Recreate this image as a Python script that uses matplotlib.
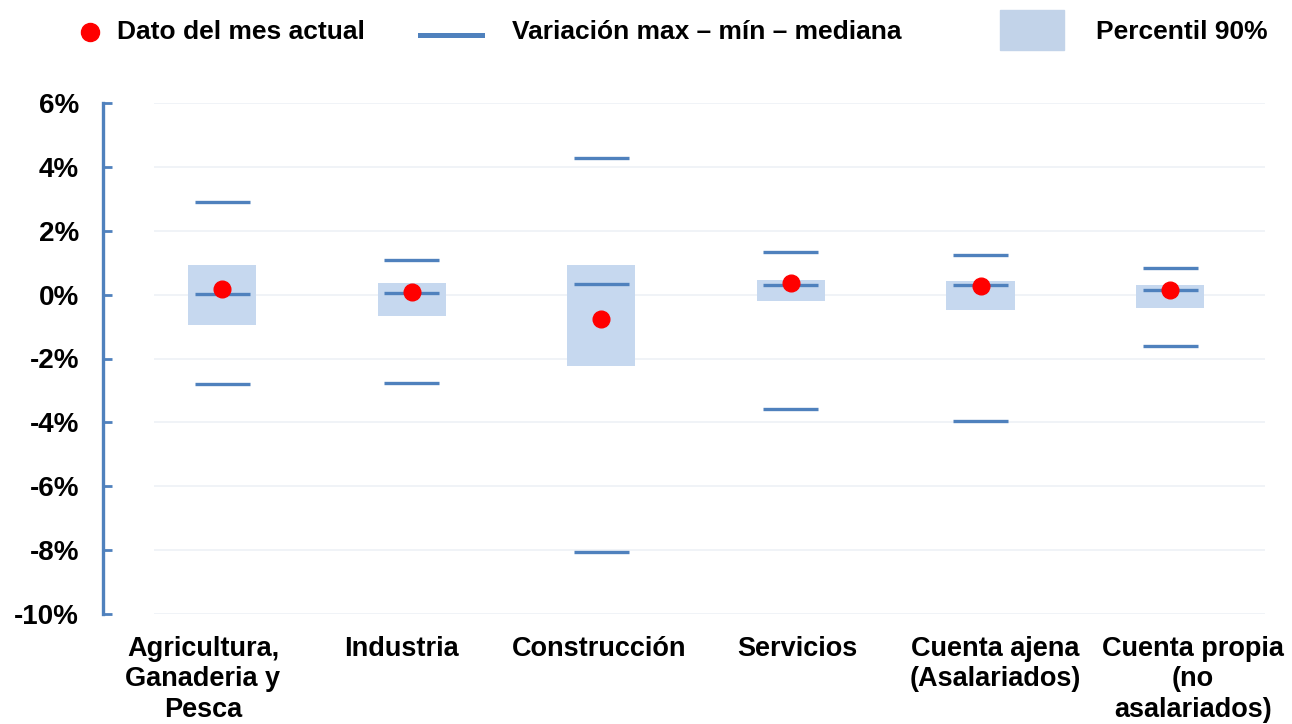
import matplotlib
matplotlib.use("Agg")
import matplotlib.pyplot as plt
from matplotlib.lines import Line2D
from matplotlib.patches import Rectangle

# data (values in %)
categories = ["Agricultura,\nGanaderia y\nPesca", "Industria", "Construcción",
              "Servicios", "Cuenta ajena\n(Asalariados)", "Cuenta propia\n(no\nasalariados)"]
max_vals = [2.91, 1.07, 4.27, 1.33, 1.23, 0.84]
min_vals = [-2.81, -2.77, -8.07, -3.59, -3.96, -1.60]
median_vals = [0.03, 0.06, 0.34, 0.29, 0.29, 0.14]
p90_top = [0.94, 0.35, 0.93, 0.45, 0.44, 0.31]
p90_bottom = [-0.95, -0.67, -2.22, -0.21, -0.48, -0.41]
current = [0.19, 0.07, -0.76, 0.35, 0.26, 0.16]
yticks = [6, 4, 2, 0, -2, -4, -6, -8, -10]

blue = "#4F81BD"
box_color = "#C6D8EF"
font = "Liberation Sans"

fig = plt.figure(figsize=(12.92, 7.24), dpi=100)
ax = fig.add_axes([154 / 1292, 1 - 614 / 724, (1265 - 154) / 1292, (614 - 103) / 724])

x = list(range(len(categories)))

# percentil 90% boxes
ax.bar(x, [t - b for t, b in zip(p90_top, p90_bottom)], bottom=p90_bottom,
       width=0.36, color=box_color, zorder=2)
# max / min / median lines
for vals in (max_vals, min_vals, median_vals):
    ax.hlines(vals, [i - 0.145 for i in x], [i + 0.145 for i in x],
              color=blue, linewidth=2.4, zorder=3)
# current month
ax.plot(x, current, "o", color="red", markersize=12, zorder=4, linestyle="none")

for s in ("top", "right", "bottom"):
    ax.spines[s].set_visible(False)
ax.spines["left"].set_position(("outward", 37))
ax.spines["left"].set_color(blue)
ax.spines["left"].set_linewidth(2.4)

ax.set_xlim(-0.359, 5.5)
ax.set_ylim(-10, 6)
ax.set_yticks(yticks)
ax.set_yticklabels([f"{v}%" for v in yticks])
for lab in ax.get_yticklabels():
    lab.set_fontsize(20)
    lab.set_fontweight("bold")
    lab.set_family(font)
ax.yaxis.grid(True, color="#EDF1F6", linewidth=1.2, zorder=0)
ax.set_axisbelow(True)
ax.tick_params(axis="y", direction="in", length=6.5, width=2, color=blue, pad=17)
ax.set_xticks([])

# category labels spread across the full width from the spine
for i, lab in enumerate(categories):
    ax.text((203 - 154 + 198 * i) / 1111, -0.043, lab, transform=ax.transAxes,
            ha="center", va="top", fontsize=19.5, fontweight="bold", family=font,
            linespacing=1.22)

# legend across the top
fig.add_artist(Line2D([90 / 1292], [1 - 32 / 724], marker="o", color="red",
                      markersize=13, linestyle="none", transform=fig.transFigure))
fig.text(117 / 1292, 1 - 32 / 724, "Dato del mes actual", fontsize=19,
         fontweight="bold", family=font, va="center")
fig.add_artist(Line2D([420 / 1292, 482 / 1292], [1 - 35 / 724] * 2, color=blue,
                      linewidth=3.6, transform=fig.transFigure))
fig.text(512 / 1292, 1 - 32 / 724, "Variación max – mín – mediana", fontsize=19,
         fontweight="bold", family=font, va="center")
fig.add_artist(Rectangle((1000 / 1292, 1 - 50 / 724), 64 / 1292, 40 / 724,
                         color="#C2D3E9", transform=fig.transFigure))
fig.text(1096 / 1292, 1 - 32 / 724, "Percentil 90%", fontsize=19,
         fontweight="bold", family=font, va="center")

fig.savefig("out.png", dpi=100)
